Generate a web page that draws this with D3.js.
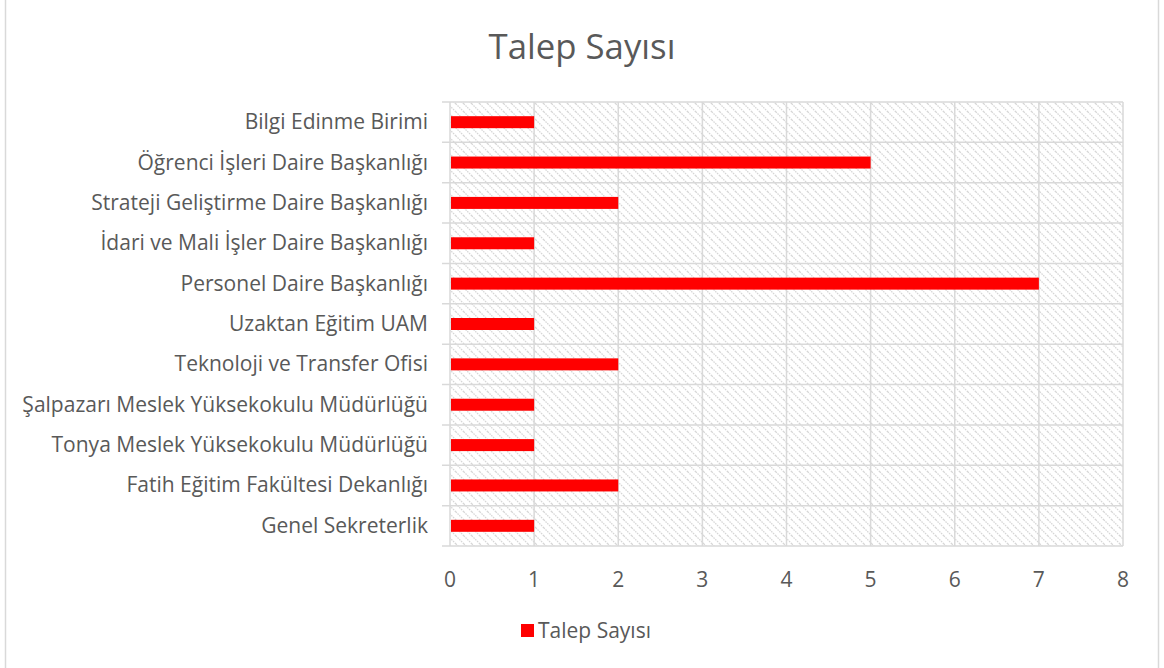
<!DOCTYPE html>
<html><head><meta charset="utf-8">
<script src="https://cdn.jsdelivr.net/npm/d3@7"></script>
<style>
html,body{margin:0;padding:0;background:#fff;}
svg{display:block;font-family:"Open Sans",sans-serif;}
</style></head>
<body><svg id="c" width="1164" height="668"></svg>
<script>
const title = "Talep Sayısı";
const seriesName = "Talep Sayısı";
const categories = [
  "Bilgi Edinme Birimi",
  "Öğrenci İşleri Daire Başkanlığı",
  "Strateji Geliştirme Daire Başkanlığı",
  "İdari ve Mali İşler Daire Başkanlığı",
  "Personel Daire Başkanlığı",
  "Uzaktan Eğitim UAM",
  "Teknoloji ve Transfer Ofisi",
  "Şalpazarı Meslek Yüksekokulu Müdürlüğü",
  "Tonya Meslek Yüksekokulu Müdürlüğü",
  "Fatih Eğitim Fakültesi Dekanlığı",
  "Genel Sekreterlik"
];
const values = [1, 5, 2, 1, 7, 1, 2, 1, 1, 2, 1];
const xTicks = [0, 1, 2, 3, 4, 5, 6, 7, 8];

const svg = d3.select("#c");
const W = 1164, H = 668;
const m = {left: 450, right: 1123, top: 102, bottom: 546};
const textColor = "#595959", gridColor = "#d9d9d9";

function fitSize(sel, target, base) {
  const w = sel.node().getComputedTextLength();
  return base * target / w;
}

svg.append("rect").attr("x", 5.5).attr("y", -2).attr("width", 1153).attr("height", H + 4)
  .attr("fill", "#fff").attr("stroke", gridColor).attr("stroke-width", 1.5);

const defs = svg.append("defs");
const pat = defs.append("pattern").attr("id", "hatch").attr("patternUnits", "userSpaceOnUse")
  .attr("width", 8).attr("height", 8);
pat.append("rect").attr("width", 8).attr("height", 8).attr("fill", "#fff");
pat.append("path").attr("d", "M-2,-2 L10,10 M-2,6 L2,10 M6,-2 L10,2")
  .attr("stroke", "#d6d6d6").attr("stroke-width", 1.3).attr("stroke-dasharray", "1.5,1");

const x = d3.scaleLinear().domain([0, 8]).range([m.left, m.right]);
const y = d3.scaleBand().domain(categories).range([m.top, m.bottom]).paddingInner(0).paddingOuter(0);

svg.append("rect").attr("x", m.left).attr("y", m.top).attr("width", m.right - m.left)
  .attr("height", m.bottom - m.top).attr("fill", "url(#hatch)");

svg.append("g").selectAll("line").data(xTicks).join("line")
  .attr("x1", d => x(d)).attr("x2", d => x(d)).attr("y1", m.top).attr("y2", m.bottom)
  .attr("stroke", gridColor).attr("stroke-width", 1.5);

const bounds = categories.map(c => y(c)).concat([m.bottom]);
svg.append("g").selectAll("line").data(bounds).join("line")
  .attr("x1", m.left - 8).attr("x2", m.right).attr("y1", d => d).attr("y2", d => d)
  .attr("stroke", gridColor).attr("stroke-width", 1.5);

const barH = 12;
svg.append("g").selectAll("rect").data(values).join("rect")
  .attr("x", x(0) + 1).attr("y", (d, i) => y(categories[i]) + y.bandwidth() / 2 - barH / 2)
  .attr("width", d => x(d) - x(0) - 1).attr("height", barH).attr("fill", "#ff0000");

const probe = svg.append("text").attr("font-size", 20).text(categories[7]);
const labelSize = fitSize(probe, 406, 20);
probe.remove();

svg.append("g").selectAll("text").data(categories).join("text")
  .attr("x", 428).attr("y", d => y(d) + y.bandwidth() / 2 + 7)
  .attr("text-anchor", "end").attr("fill", textColor).attr("font-size", labelSize).text(d => d);

svg.append("g").selectAll("text").data(xTicks).join("text")
  .attr("x", d => x(d)).attr("y", 587)
  .attr("text-anchor", "middle").attr("fill", textColor).attr("font-size", labelSize).text(d => d);

const t = svg.append("text").attr("x", 582).attr("y", 59).attr("text-anchor", "middle")
  .attr("fill", textColor).attr("font-size", 36).text(title);
t.attr("font-size", fitSize(t, 187, 36));

svg.append("rect").attr("x", 521).attr("y", 624).attr("width", 13).attr("height", 13).attr("fill", "#ff0000");
const lg = svg.append("text").attr("x", 538).attr("y", 638).attr("fill", textColor)
  .attr("font-size", 20).text(seriesName);
lg.attr("font-size", fitSize(lg, 113, 20));
</script></body></html>
